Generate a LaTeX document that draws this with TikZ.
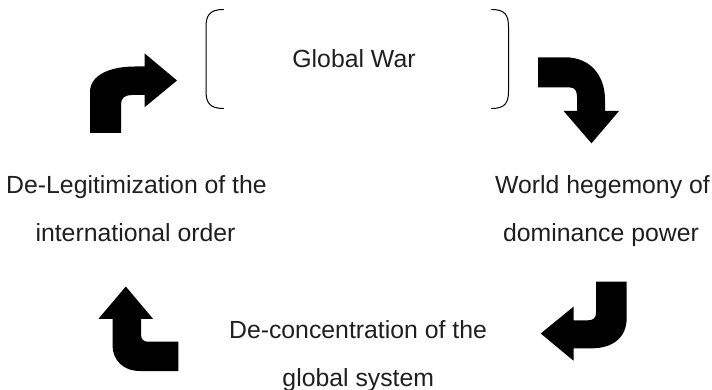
\documentclass[tikz,border=0pt]{standalone}
\usepackage{fontspec}
\setmainfont{Liberation Sans}
\begin{document}
\begin{tikzpicture}[x=1pt,y=-1pt,
  lbl/.style={anchor=base,inner sep=0pt,font=\fontsize{24.8}{30}\selectfont,text=black!88},
  bigarrow/.style={fill=black,draw=none},
  bracketline/.style={draw=black,line width=1pt,line cap=round}]
\useasboundingbox (0,0) rectangle (712,390);
% brackets
\draw[bracketline] (223.5,9.5) .. controls (210,9.5) and (206,15) .. (206,27) -- (206,91) .. controls (206,103) and (210,108.5) .. (223.5,108.5);
\draw[bracketline] (491.5,9.5) .. controls (505,9.5) and (508.5,15) .. (508.5,27) -- (508.5,91) .. controls (508.5,103) and (505,108.5) .. (491.5,108.5);
\node[lbl] (gw) at (354,68) {Global War};
% texts
\node[lbl] (l1) at (136.5,193.3) {De-Legitimization of the};
\node[lbl] (l2) at (135.5,241.5) {international order};
\node[lbl] (r1) at (602.5,193.3) {World hegemony of};
\node[lbl] (r2) at (601,241.5) {dominance power};
\node[lbl] (b1) at (358,338.3) {De-concentration of the};
\node[lbl] (b2) at (358.3,386) {global system};
% arrow 1 (up, then right)
\path[bigarrow] (90,133) -- (90,92) .. controls (90,75) and (110,66.5) .. (135,66.5) -- (144.5,66.5) -- (144.5,53.3) -- (177,80.5) -- (144.5,107.3) -- (144.5,95) -- (132,95) .. controls (125,95) and (121,98) .. (121,104) -- (121,133) -- cycle;
% arrow 2 (right, then down)
\path[bigarrow] (538,57.3) -- (565,57.3) .. controls (590,57.3) and (605,75) .. (605,100) -- (605,111) -- (619,111) -- (591.5,143.3) -- (563.6,111) -- (577,111) -- (577,97) .. controls (577,91) and (575,87.5) .. (570,87.5) -- (538,87.5) -- cycle;
% arrow 3 (down, then left)
\path[bigarrow] (596,281.7) -- (626.7,281.7) -- (626.7,318) .. controls (626.7,338) and (612,348.3) .. (592,348.3) -- (573.5,348.3) -- (573.5,360.7) -- (540.7,333.5) -- (573.5,306.7) -- (573.5,320.3) -- (588,320.3) .. controls (593,320.3) and (596,318) .. (596,313) -- cycle;
% arrow 4 (left, then up)
\path[bigarrow] (178.3,341.7) -- (178.3,371) -- (140,371) .. controls (123,371) and (112.5,360) .. (112.5,345) -- (112.5,318.8) -- (98.5,318.8) -- (125.8,286.5) -- (153,318.8) -- (141,318.8) -- (141,334) .. controls (141,339) and (143,341.7) .. (148,341.7) -- cycle;
\end{tikzpicture}
\end{document}
